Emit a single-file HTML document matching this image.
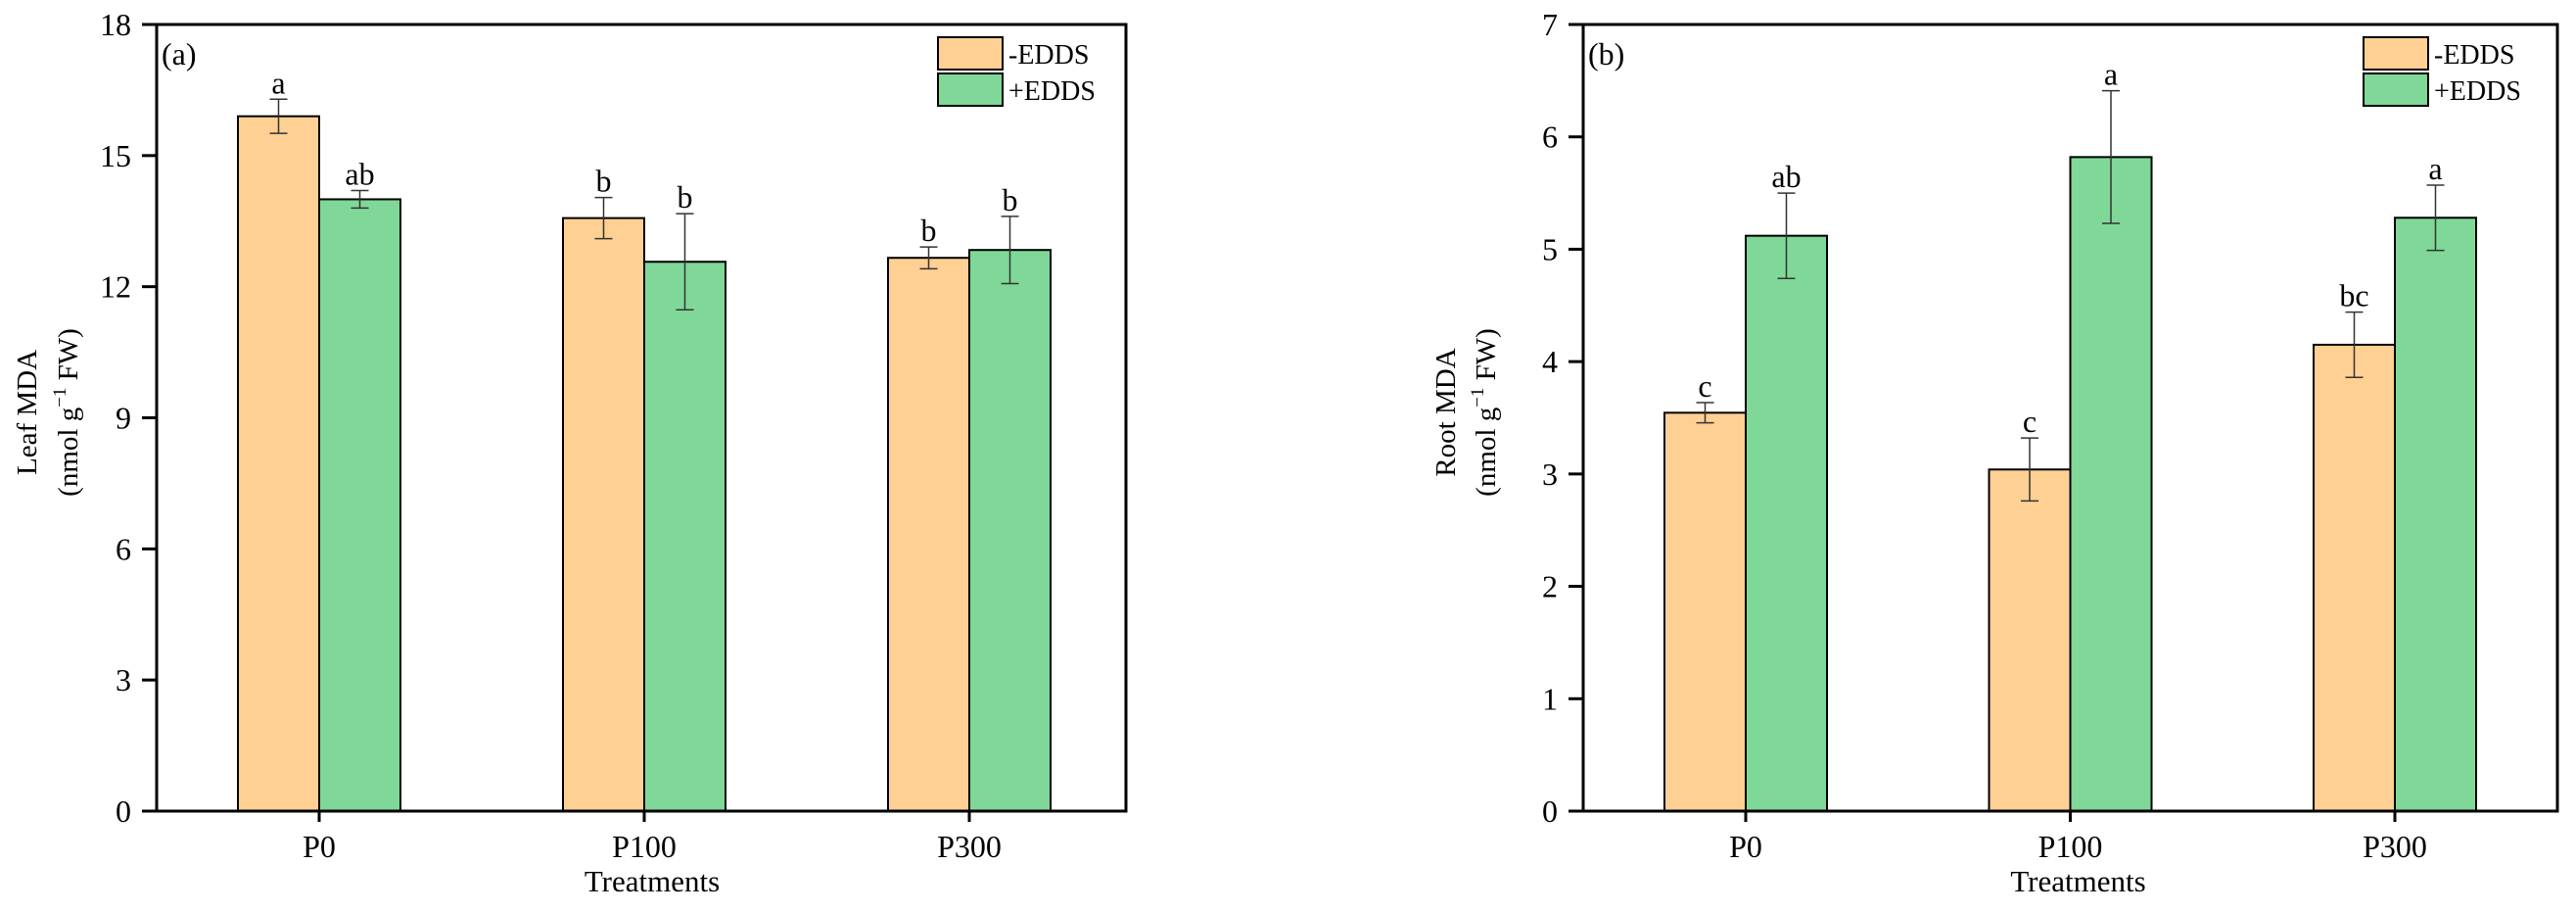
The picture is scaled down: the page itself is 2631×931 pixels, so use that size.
<!DOCTYPE html>
<html><head><meta charset="utf-8"><style>
html,body{margin:0;padding:0;background:#fff;}
svg text{font-family:"Liberation Serif",serif;fill:#000;}
</style></head><body>
<svg id="chart" xmlns="http://www.w3.org/2000/svg" width="2631" height="926" viewBox="0 0 2631 926"></svg>
<script>
const categories = ["P0", "P100", "P300"];
const seriesNames = ["-EDDS", "+EDDS"];
const leafMinus = [15.9, 13.57, 12.66];
const leafPlus = [14.0, 12.57, 12.84];
const leafMinusErr = [0.39, 0.47, 0.25];
const leafPlusErr = [0.2, 1.1, 0.77];
const leafMinusLetters = ["a", "b", "b"];
const leafPlusLetters = ["ab", "b", "b"];
const leafTicks = [0, 3, 6, 9, 12, 15, 18];
const rootMinus = [3.545, 3.04, 4.15];
const rootPlus = [5.12, 5.82, 5.28];
const rootMinusErr = [0.09, 0.28, 0.29];
const rootPlusErr = [0.38, 0.59, 0.29];
const rootMinusLetters = ["c", "c", "bc"];
const rootPlusLetters = ["ab", "a", "a"];
const rootTicks = [0, 1, 2, 3, 4, 5, 6, 7];

const NS = "http://www.w3.org/2000/svg";
const svg = document.getElementById("chart");
const colors = ["#FFD093", "#7FD898"];
function mk(tag, attrs, parent, txt) {
  const e = document.createElementNS(NS, tag);
  for (const k in attrs) e.setAttribute(k, attrs[k]);
  if (txt !== undefined) e.textContent = txt;
  parent.appendChild(e);
  return e;
}
function panel(cfg) {
  const g = mk("g", {}, svg);
  
  
  const L = cfg.left, R = cfg.right, T = 25, B = 828;
  const yMax = cfg.ticks[cfg.ticks.length - 1];
  const y = v => B - (v / yMax) * (B - T);
  const step = cfg.step;
  const x = i => cfg.x0 + i * step;
  const bw = 83;
  // bars
  const vals = [cfg.minus, cfg.plus], errs = [cfg.minusErr, cfg.plusErr], lets = [cfg.minusL, cfg.plusL];
  for (let s = 0; s < 2; s++) {
    for (let i = 0; i < categories.length; i++) {
      const bx = x(i) + (s === 0 ? -bw : 0);
      const r = mk("rect", {x: bx, y: y(vals[s][i]), width: bw, height: B - y(vals[s][i]), fill: colors[s], stroke: "#000", "stroke-width": 2}, g);
      
      
      const cx = bx + bw / 2, top = y(vals[s][i] + errs[s][i]), bot = y(vals[s][i] - errs[s][i]);
      const eb = mk("path", {d: `M${cx},${top}V${bot}M${cx-9},${top}H${cx+9}M${cx-9},${bot}H${cx+9}`, stroke: "#333", "stroke-width": 1.5, fill: "none"}, g);
      
      
      const t = mk("text", {x: cx, y: top - 6, "text-anchor": "middle", "font-size": 32}, g, lets[s][i]);
      
      
    }
  }
  // frame
  const fr = mk("rect", {x: L, y: T, width: R - L, height: B - T, fill: "none", stroke: "#000", "stroke-width": 3}, g);
  
  
  // y ticks
  cfg.ticks.forEach(v => {
    mk("line", {x1: L - 15, x2: L, y1: y(v), y2: y(v), stroke: "#000", "stroke-width": 3}, g);
    const t = mk("text", {x: L - 26, y: y(v) + 11, "text-anchor": "end", "font-size": 32}, g, String(v));
    
    
  });
  categories.forEach((c, i) => {
    mk("line", {x1: x(i), x2: x(i), y1: B, y2: B + 11, stroke: "#000", "stroke-width": 3}, g);
    const t = mk("text", {x: x(i), y: 875, "text-anchor": "middle", "font-size": 32}, g, c);
    
    
  });
  const xt = mk("text", {x: x(1) + 8, y: 910, "text-anchor": "middle", "font-size": 31}, g, "Treatments");
  
  
  const yt = mk("text", {transform: `translate(${cfg.yt1},421) rotate(-90)`, "text-anchor": "middle", "font-size": 29}, g, cfg.ytitle);
  
  
  const yt2 = mk("text", {transform: `translate(${cfg.yt2},421) rotate(-90)`, "text-anchor": "middle", "font-size": 29}, g);
  
  
  mk("tspan", {}, yt2, "(nmol g");
  mk("tspan", {dy: -12, "font-size": 19}, yt2, "−1");
  mk("tspan", {dy: 12}, yt2, " FW)");
  const pl = mk("text", {x: L + 5, y: 66, "font-size": 32}, g, cfg.label);
  
  
  // legend
  for (let s = 0; s < 2; s++) {
    const ly = 38 + s * 37;
    const sw = mk("rect", {x: cfg.legX, y: ly, width: 66, height: 33, fill: colors[s], stroke: "#000", "stroke-width": 2}, g);
    
    
    const lt = mk("text", {x: cfg.legX + 72, y: ly + 27, "font-size": 28}, g, seriesNames[s]);
    
    
  }
}
panel({name: "leaf-mda-panel", left: 160, right: 1150, x0: 326, step: 332, ticks: leafTicks,
  minus: leafMinus, plus: leafPlus, minusErr: leafMinusErr, plusErr: leafPlusErr,
  minusL: leafMinusLetters, plusL: leafPlusLetters, ytitle: "Leaf MDA", yt1: 37, yt2: 79, label: "(a)", legX: 958});
panel({name: "root-mda-panel", left: 1617, right: 2612, x0: 1783, step: 331.5, ticks: rootTicks,
  minus: rootMinus, plus: rootPlus, minusErr: rootMinusErr, plusErr: rootPlusErr,
  minusL: rootMinusLetters, plusL: rootPlusLetters, ytitle: "Root MDA", yt1: 1486, yt2: 1527, label: "(b)", legX: 2414});
</script>
</body></html>
